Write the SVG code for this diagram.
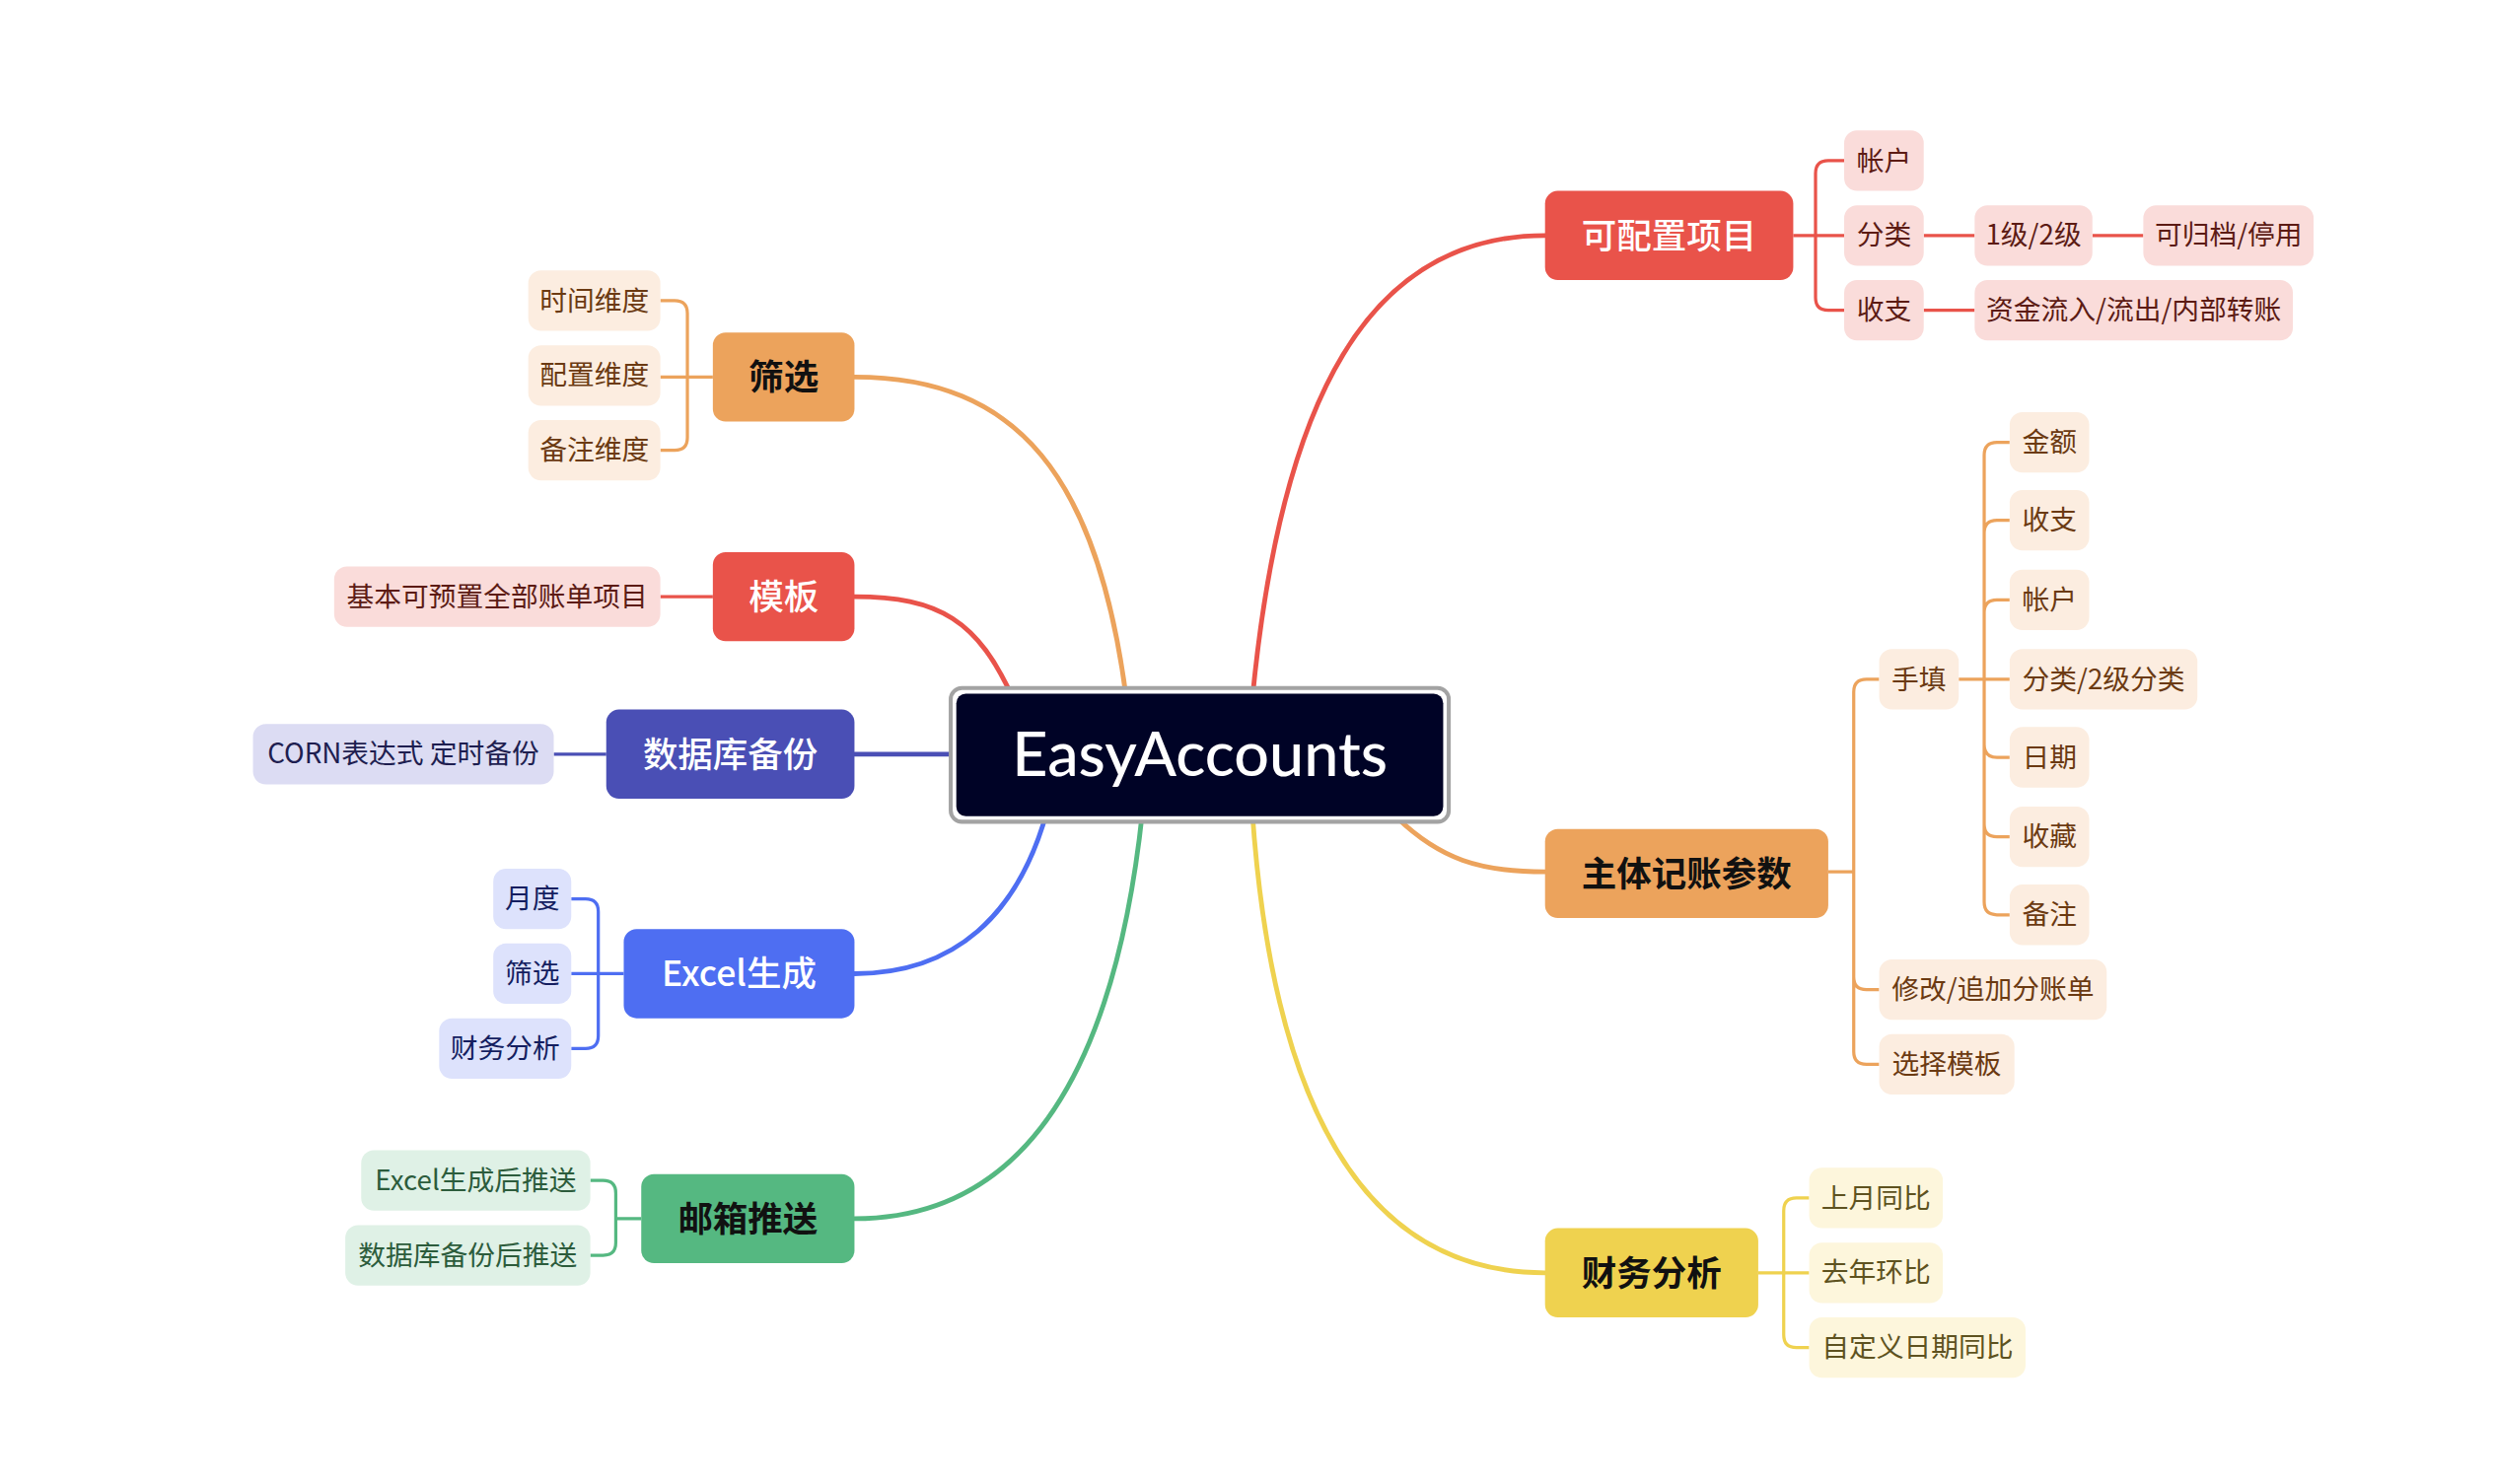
<svg xmlns="http://www.w3.org/2000/svg" width="2530" height="1505" viewBox="0 0 2530 1505">
<style>
.cjk{font-family:"Noto Sans CJK SC","Noto Sans",sans-serif}
.bt{font-size:22px;font-weight:600;text-anchor:middle}
.ct{font-size:17.2px;font-weight:400;text-anchor:middle}
.w{fill:#ffffff;font-weight:500}.k{fill:#111111;font-weight:700}
.main{fill:none;stroke-width:3;stroke-linecap:round}
.sub{fill:none;stroke-width:2}
.sr{stroke:#E9534A}.so{stroke:#ECA35C}.sy{stroke:#EFD24F}.si{stroke:#4A4FB5}.sb{stroke:#4E6EF2}.sg{stroke:#55B881}
.fr{fill:#E9534A}.fo{fill:#ECA35C}.fy{fill:#EFD24F}.fi{fill:#4A4FB5}.fb{fill:#4E6EF2}.fg{fill:#55B881}
.cr{fill:#FADCDA}.co{fill:#FCEDE0}.cy{fill:#FDF6DC}.ci{fill:#DCDCF3}.cb{fill:#DDE2FC}.cg{fill:#DFF1E6}
.tr{fill:#5C1B14}.to{fill:#6B3A12}.ty{fill:#5E5220}.ti{fill:#1E1E50}.tb{fill:#141E60}.tg{fill:#2C5C3C}
</style>
<rect width="2530" height="1505" fill="#ffffff"/>
<g transform="scale(1.6135)">
<g id="connectors">
<path class="main sr" d="M787,440 C805,250 860,148 971,148"/>
<path class="main so" d="M878,514 C905,540 930,548 971,548"/>
<path class="main sy" d="M787,510 C800,700 860,800 971,800"/>
<path class="main so" d="M708,440 C690,300 640,237 537,237"/>
<path class="main sr" d="M637,440 C615,390 590,375 537,375"/>
<path class="main si" d="M537,474 H605"/>
<path class="main sb" d="M658,510 C640,575 600,612 537,612"/>
<path class="main sg" d="M718,510 C700,680 640,766 537,766"/>
<path class="sub sr" d="M1127,148 H1159 M1141,148 V109 Q1141,101 1149,101 H1159 M1141,148 V187 Q1141,195 1149,195 H1159 M1209,148 H1241 M1315,148 H1347 M1209,195 H1241"/>
<path class="sub so" d="M1149,548 H1165 V435 Q1165,427 1173,427 H1181 M1165,548 V614 Q1165,622 1173,622 H1181 M1165,548 V661 Q1165,669 1173,669 H1181"/>
<path class="sub so" d="M1231,427 H1263 M1247,427 V286 Q1247,278 1255,278 H1263 M1247,427 V335 Q1247,327 1255,327 H1263 M1247,427 V385 Q1247,377 1255,377 H1263 M1247,427 V468 Q1247,476 1255,476 H1263 M1247,427 V518 Q1247,526 1255,526 H1263 M1247,427 V567 Q1247,575 1255,575 H1263"/>
<path class="sub sy" d="M1105,800 H1137 M1121,800 V761 Q1121,753 1129,753 H1137 M1121,800 V839 Q1121,847 1129,847 H1137"/>
<path class="sub so" d="M448,237 H415 M432,237 V197 Q432,189 424,189 H415 M432,237 V275 Q432,283 424,283 H415"/>
<path class="sub sr" d="M448,375 H415"/>
<path class="sub si" d="M381,474 H348"/>
<path class="sub sb" d="M392,612 H359 M376,612 V573 Q376,565 368,565 H359 M376,612 V651 Q376,659 368,659 H359"/>
<path class="sub sg" d="M403,766 H387 V750 Q387,742 379,742 H371 M387,766 V781 Q387,789 379,789 H371"/>
</g>

<g id="n-center">
<rect x="597.5" y="432.5" width="313" height="84" rx="7" fill="#ffffff" stroke="#a3a3a3" stroke-width="2.5"/>
<rect x="601" y="436" width="306" height="77" rx="6" fill="#000326"/>
<text x="754" y="488" font-family="Lato,'Open Sans',sans-serif" font-size="38" font-weight="500" text-anchor="middle" fill="#ffffff" textLength="236" lengthAdjust="spacingAndGlyphs">EasyAccounts</text>
</g>

<g id="n-kpz"><rect class="fr" x="971" y="120" width="156" height="56" rx="8"/><text class="cjk bt w" x="1049" y="156">可配置项目</text></g>
<g id="n-kpz-zh"><rect class="cr" x="1159" y="82" width="50" height="38" rx="8"/><text class="cjk ct tr" x="1184" y="107">帐户</text></g>
<g id="n-kpz-fl"><rect class="cr" x="1159" y="129" width="50" height="38" rx="8"/><text class="cjk ct tr" x="1184" y="154">分类</text></g>
<g id="n-kpz-sz"><rect class="cr" x="1159" y="176" width="50" height="38" rx="8"/><text class="cjk ct tr" x="1184" y="201">收支</text></g>
<g id="n-kpz-jb"><rect class="cr" x="1241" y="129" width="74" height="38" rx="8"/><text class="cjk ct tr" x="1278" y="154">1级/2级</text></g>
<g id="n-kpz-gd"><rect class="cr" x="1347" y="129" width="107" height="38" rx="8"/><text class="cjk ct tr" x="1400.5" y="154">可归档/停用</text></g>
<g id="n-kpz-zj"><rect class="cr" x="1241" y="176" width="200" height="38" rx="8"/><text class="cjk ct tr" x="1341" y="201">资金流入/流出/内部转账</text></g>

<g id="n-ztjz"><rect class="fo" x="971" y="521" width="178" height="56" rx="8"/><text class="cjk bt k" x="1060" y="557">主体记账参数</text></g>
<g id="n-sd"><rect class="co" x="1181" y="408" width="50" height="38" rx="8"/><text class="cjk ct to" x="1206" y="433">手填</text></g>
<g id="n-je"><rect class="co" x="1263" y="259" width="50" height="38" rx="8"/><text class="cjk ct to" x="1288" y="284">金额</text></g>
<g id="n-sz2"><rect class="co" x="1263" y="308" width="50" height="38" rx="8"/><text class="cjk ct to" x="1288" y="333">收支</text></g>
<g id="n-zh2"><rect class="co" x="1263" y="358" width="50" height="38" rx="8"/><text class="cjk ct to" x="1288" y="383">帐户</text></g>
<g id="n-fl2"><rect class="co" x="1263" y="408" width="118" height="38" rx="8"/><text class="cjk ct to" x="1322" y="433">分类/2级分类</text></g>
<g id="n-rq"><rect class="co" x="1263" y="457" width="50" height="38" rx="8"/><text class="cjk ct to" x="1288" y="482">日期</text></g>
<g id="n-sc"><rect class="co" x="1263" y="507" width="50" height="38" rx="8"/><text class="cjk ct to" x="1288" y="532">收藏</text></g>
<g id="n-bz"><rect class="co" x="1263" y="556" width="50" height="38" rx="8"/><text class="cjk ct to" x="1288" y="581">备注</text></g>
<g id="n-xg"><rect class="co" x="1181" y="603" width="143" height="38" rx="8"/><text class="cjk ct to" x="1252.5" y="628">修改/追加分账单</text></g>
<g id="n-xzmb"><rect class="co" x="1181" y="650" width="85" height="38" rx="8"/><text class="cjk ct to" x="1223.5" y="675">选择模板</text></g>

<g id="n-cwfx"><rect class="fy" x="971" y="772" width="134" height="56" rx="8"/><text class="cjk bt k" x="1038" y="808">财务分析</text></g>
<g id="n-sytb"><rect class="cy" x="1137" y="734" width="84" height="38" rx="8"/><text class="cjk ct ty" x="1179" y="759">上月同比</text></g>
<g id="n-qnhb"><rect class="cy" x="1137" y="781" width="84" height="38" rx="8"/><text class="cjk ct ty" x="1179" y="806">去年环比</text></g>
<g id="n-zdy"><rect class="cy" x="1137" y="828" width="136" height="38" rx="8"/><text class="cjk ct ty" x="1205" y="853">自定义日期同比</text></g>

<g id="n-sx"><rect class="fo" x="448" y="209" width="89" height="56" rx="8"/><text class="cjk bt k" x="492.5" y="245">筛选</text></g>
<g id="n-sjwd"><rect class="co" x="332" y="170" width="83" height="38" rx="8"/><text class="cjk ct to" x="373.5" y="195">时间维度</text></g>
<g id="n-pzwd"><rect class="co" x="332" y="217" width="83" height="38" rx="8"/><text class="cjk ct to" x="373.5" y="242">配置维度</text></g>
<g id="n-bzwd"><rect class="co" x="332" y="264" width="83" height="38" rx="8"/><text class="cjk ct to" x="373.5" y="289">备注维度</text></g>

<g id="n-mb"><rect class="fr" x="448" y="347" width="89" height="56" rx="8"/><text class="cjk bt w" x="492.5" y="383">模板</text></g>
<g id="n-jbky"><rect class="cr" x="210" y="356" width="205" height="38" rx="8"/><text class="cjk ct tr" x="312.5" y="381">基本可预置全部账单项目</text></g>

<g id="n-sjkbf"><rect class="fi" x="381" y="446" width="156" height="56" rx="8"/><text class="cjk bt w" x="459" y="482">数据库备份</text></g>
<g id="n-corn"><rect class="ci" x="159" y="455" width="189" height="38" rx="8"/><text class="cjk ct ti" x="253.5" y="480">CORN表达式 定时备份</text></g>

<g id="n-excel"><rect class="fb" x="392" y="584" width="145" height="56" rx="8"/><text class="cjk bt w" x="464.5" y="620">Excel生成</text></g>
<g id="n-yd"><rect class="cb" x="310" y="546" width="49" height="38" rx="8"/><text class="cjk ct tb" x="334.5" y="571">月度</text></g>
<g id="n-sx2"><rect class="cb" x="310" y="593" width="49" height="38" rx="8"/><text class="cjk ct tb" x="334.5" y="618">筛选</text></g>
<g id="n-cwfx2"><rect class="cb" x="276" y="640" width="83" height="38" rx="8"/><text class="cjk ct tb" x="317.5" y="665">财务分析</text></g>

<g id="n-yxts"><rect class="fg" x="403" y="738" width="134" height="56" rx="8"/><text class="cjk bt k" x="470" y="774">邮箱推送</text></g>
<g id="n-exts"><rect class="cg" x="227" y="723" width="144" height="38" rx="8"/><text class="cjk ct tg" x="299" y="748">Excel生成后推送</text></g>
<g id="n-sjts"><rect class="cg" x="217" y="770" width="154" height="38" rx="8"/><text class="cjk ct tg" x="294" y="795">数据库备份后推送</text></g>
</g>
</svg>
